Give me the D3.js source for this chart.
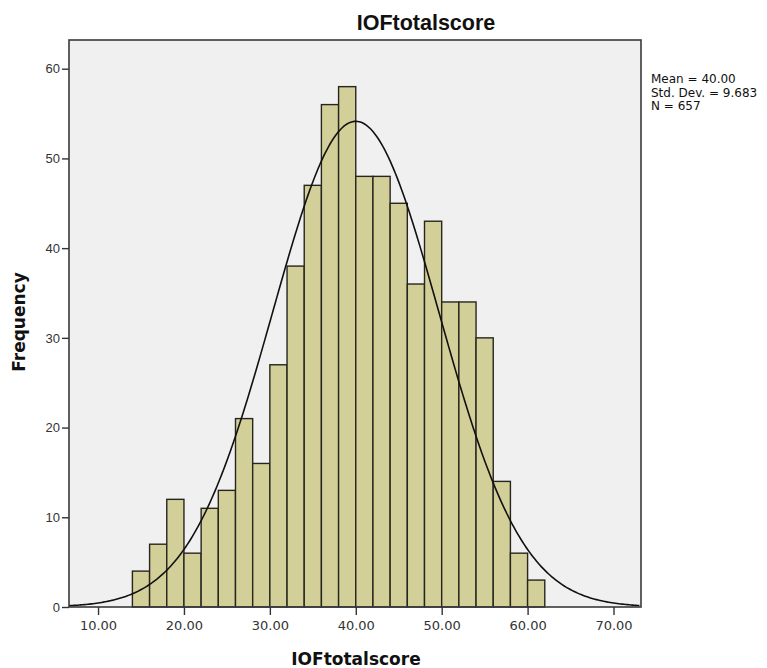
<!DOCTYPE html>
<html>
<head>
<meta charset="utf-8">
<script src="https://cdn.jsdelivr.net/npm/d3@7"></script>
<style>
  body { margin: 0; background: #fff; }
  text { font-family: "Liberation Sans", Arial, sans-serif; }
</style>
</head>
<body>
<svg id="chart"></svg>
<script>
// Histogram bins (lower edges, width 2) and counts
var binStarts = [14, 16, 18, 20, 22, 24, 26, 28, 30, 32, 34, 36, 38, 40, 42, 44, 46, 48, 50, 52, 54, 56, 58, 60],
    binCounts = [4, 7, 12, 6, 11, 13, 21, 16, 27, 38, 47, 56, 58, 48, 48, 45, 36, 43, 34, 34, 30, 14, 6, 3],
    binWidth = 2,
    xTicks = [10, 20, 30, 40, 50, 60, 70],
    yTicks = [0, 10, 20, 30, 40, 50, 60],
    stats = { mean: 40.00, sd: 9.683, n: 657 },
    legendLines = ["Mean = 40.00", "Std. Dev. = 9.683", "N = 657"];

// plot box (note: "top" is reserved on window, so use pLeft etc.)
var W = 767, H = 668,
    pLeft = 69, pRight = 641, pTop = 40, pBottom = 607;

var svg = d3.select("#chart").attr("width", W).attr("height", H);

var x = d3.scaleLinear().domain([6.62, 73.2]).range([pLeft, pRight]);
var y = d3.scaleLinear().domain([0, 63.2]).range([pBottom, pTop]);

// plot background
svg.append("rect")
    .attr("x", pLeft).attr("y", pTop)
    .attr("width", pRight - pLeft).attr("height", pBottom - pTop)
    .attr("fill", "#f0f0f0");

// bars
svg.selectAll(".bar").data(binStarts)
    .enter().append("rect")
    .attr("class", "bar")
    .attr("x", function (d) { return x(d); })
    .attr("y", function (d, i) { return y(binCounts[i]); })
    .attr("width", function (d) { return x(d + binWidth) - x(d); })
    .attr("height", function (d, i) { return pBottom - y(binCounts[i]); })
    .attr("fill", "#d3cf98")
    .attr("stroke", "#26261f")
    .attr("stroke-width", 1.4);

// normal curve scaled to counts
var scale = stats.n * binWidth / (stats.sd * Math.sqrt(2 * Math.PI));
var curvePts = d3.range(6.62, 73.21, 0.2).map(function (v) {
    var z = (v - stats.mean) / stats.sd;
    return [v, scale * Math.exp(-0.5 * z * z)];
});
svg.append("path")
    .datum(curvePts)
    .attr("fill", "none")
    .attr("stroke", "#111")
    .attr("stroke-width", 1.6)
    .attr("d", d3.line()
        .x(function (d) { return x(d[0]); })
        .y(function (d) { return y(d[1]); }));

// frame
svg.append("rect")
    .attr("x", pLeft).attr("y", pTop)
    .attr("width", pRight - pLeft).attr("height", pBottom - pTop)
    .attr("fill", "none")
    .attr("stroke", "#3a3a3a")
    .attr("stroke-width", 1.6);

// axes
var xAxis = svg.append("g")
    .attr("transform", "translate(0," + pBottom + ")")
    .call(d3.axisBottom(x).tickValues(xTicks).tickSize(8).tickPadding(6)
        .tickFormat(d3.format(".2f")));
var yAxis = svg.append("g")
    .attr("transform", "translate(" + pLeft + ",0)")
    .call(d3.axisLeft(y).tickValues(yTicks).tickSize(7).tickPadding(2));

[xAxis, yAxis].forEach(function (g) {
    g.select(".domain").remove();
    g.selectAll(".tick line").attr("stroke", "#333").attr("stroke-width", 1.4);
    g.selectAll(".tick text").attr("fill", "#333");
});
xAxis.selectAll(".tick text")
    .style("font-size", "13px")
    .style("font-family", "'DejaVu Sans', Verdana, sans-serif");
yAxis.selectAll(".tick text")
    .style("font-size", "13px")
    .style("font-family", "'Liberation Sans', Arial, sans-serif");

// title and axis labels
svg.append("text")
    .attr("x", 426).attr("y", 30)
    .attr("text-anchor", "middle")
    .style("font-size", "21.5px").style("font-weight", "bold")
    .attr("fill", "#111")
    .text("IOFtotalscore");

svg.append("text")
    .attr("x", 356).attr("y", 665)
    .attr("text-anchor", "middle")
    .style("font-family", "'DejaVu Sans', Verdana, sans-serif")
    .style("font-size", "17px").style("font-weight", "bold")
    .attr("fill", "#111")
    .text("IOFtotalscore");

svg.append("text")
    .attr("transform", "translate(25,322) rotate(-90)")
    .attr("text-anchor", "middle")
    .style("font-family", "'DejaVu Sans', Verdana, sans-serif")
    .style("font-size", "17px").style("font-weight", "bold")
    .attr("fill", "#111")
    .text("Frequency");

// stats legend
svg.append("g").selectAll("text").data(legendLines)
    .enter().append("text")
    .attr("x", 651)
    .attr("y", function (d, i) { return 83 + i * 13.5; })
    .style("font-family", "'DejaVu Sans', Verdana, sans-serif")
    .style("font-size", "12px")
    .attr("fill", "#111")
    .text(function (d) { return d; });
</script>
</body>
</html>
